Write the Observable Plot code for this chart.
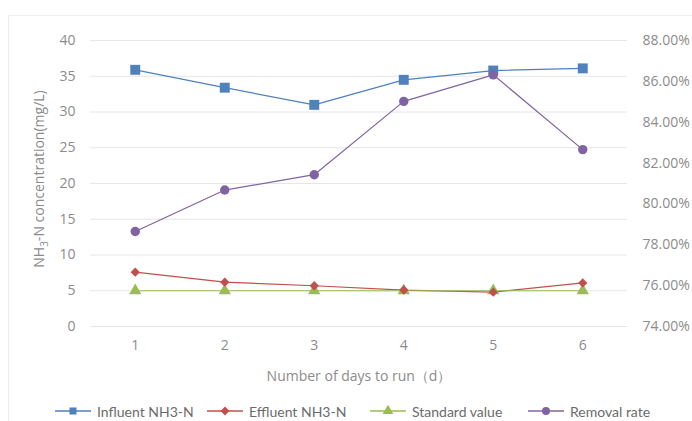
<!DOCTYPE html>
<html>
<head>
<meta charset="utf-8">
<script src="https://cdn.jsdelivr.net/npm/d3@7"></script>
<script src="https://cdn.jsdelivr.net/npm/@observablehq/plot@0.6"></script>
<style>
  html, body { margin: 0; padding: 0; background: #fff; }
  #wrap { position: relative; width: 692px; height: 421px; overflow: hidden; }
  #frame { position: absolute; left: 8px; top: 15px; width: 700px; height: 420px; border-left: 1px solid #ececec; border-top: 1px solid #ececec; pointer-events: none; }
  #chart { position: absolute; left: 0; top: 0; }
  #legend { position: absolute; left: 0; top: 402px; width: 692px; height: 18px; font-family: Lato, "Open Sans", sans-serif; font-size: 14px; color: #6b6b6b; }
  .item { position: absolute; top: 0; display: flex; align-items: center; white-space: nowrap; }
  .item svg { margin-right: 6px; }
</style>
</head>
<body>
<div id="wrap">
  <div id="frame"></div>
  <div id="chart"></div>
  <div id="legend"></div>
</div>
<script>
// ---- data ----
const days = [1, 2, 3, 4, 5, 6];
const influent = [35.9, 33.4, 31.0, 34.5, 35.8, 36.1];
const effluent = [7.6, 6.2, 5.7, 5.1, 4.8, 6.1];
const standard = [5, 5, 5, 5, 5, 5];
const removal = [78.65, 80.68, 81.43, 85.02, 86.32, 82.66]; // percent, right axis
const leftTicks = [0, 5, 10, 15, 20, 25, 30, 35, 40];
const rightTicks = [74, 76, 78, 80, 82, 84, 86, 88];
const seriesNames = ["Influent NH3-N", "Effluent NH3-N", "Standard value", "Removal rate"];
const colors = ["#4F81BD", "#C0504D", "#9BBB59", "#8064A2"];
const symbols = ["square", "diamond2", "triangle", "circle"];
const markerR = [5.6, 4.2, 4.6, 4.7];

// right axis (percent) mapped onto left axis scale
const rMin = 74, rMax = 88, lMax = 40;
const toLeft = r => (r - rMin) / (rMax - rMin) * lMax;
const fromLeft = v => rMin + v / lMax * (rMax - rMin);

const rows = [];
days.forEach((d, i) => {
  rows.push({day: d, s: seriesNames[0], v: influent[i], k: 0});
  rows.push({day: d, s: seriesNames[1], v: effluent[i], k: 1});
  rows.push({day: d, s: seriesNames[2], v: standard[i], k: 2});
  rows.push({day: d, s: seriesNames[3], v: toLeft(removal[i]), k: 3});
});

const font = "'Open Sans', sans-serif";
const plot = Plot.plot({
  width: 692,
  height: 395,
  marginLeft: 90,
  marginRight: 65,
  marginTop: 40,
  marginBottom: 69,
  style: {fontFamily: font, fontSize: "14px", color: "#8c8c8c", background: "transparent"},
  x: {type: "linear", domain: [0.5, 6.5]},
  y: {domain: [0, 40]},
  r: {type: "identity"},
  color: {domain: seriesNames, range: colors},
  symbol: {domain: seriesNames, range: symbols},
  marks: [
    Plot.gridY(leftTicks, {stroke: "#e6e6e6", strokeOpacity: 1}),
    Plot.axisY(leftTicks, {anchor: "left", tickSize: 0, tickPadding: 15, label: null, fill: "#8c8c8c"}),
    Plot.axisY(rightTicks.map(toLeft), {anchor: "right", tickSize: 0, tickPadding: 15, label: null,
      tickFormat: v => fromLeft(v).toFixed(2) + "%", fill: "#8c8c8c"}),
    Plot.axisX(days, {anchor: "bottom", tickSize: 0, tickPadding: 14, tickFormat: d => String(d),
      label: "Number of days to run（d）", labelAnchor: "center", labelArrow: "none", labelOffset: 54, fill: "#8c8c8c"}),
    Plot.line(rows, {x: "day", y: "v", z: "s", stroke: "s", strokeWidth: 1.2}),
    Plot.dot(rows, {x: "day", y: "v", fill: "s", symbol: "s", stroke: "none", r: d => markerR[d.k]})
  ]
});
document.getElementById("chart").appendChild(plot);

// y-axis title with subscript
const svg = d3.select(plot);
const t = svg.append("text")
  .attr("transform", "translate(44,179) rotate(-90)")
  .attr("text-anchor", "middle")
  .attr("font-family", font)
  .attr("font-size", "14px")
  .attr("fill", "#8c8c8c");
t.append("tspan").text("NH");
t.append("tspan").attr("font-size", "10px").attr("dy", "4").text("3");
t.append("tspan").attr("dy", "-4").text("-N concentration(mg/L)");

// legend
const legendX = [55, 207, 370, 528];
const legend = d3.select("#legend");
seriesNames.forEach((name, i) => {
  const item = legend.append("div").attr("class", "item").style("left", legendX[i] + "px");
  const s = item.append("svg").attr("width", 36).attr("height", 18);
  s.append("line").attr("x1", 0).attr("x2", 36).attr("y1", 9).attr("y2", 9)
    .attr("stroke", colors[i]).attr("stroke-width", 1.3);
  const sym = {square: d3.symbolSquare, diamond2: d3.symbolDiamond2, triangle: d3.symbolTriangle, circle: d3.symbolCircle}[symbols[i]];
  s.append("path").attr("transform", "translate(18,9)")
    .attr("d", d3.symbol(sym, 50)()).attr("fill", colors[i]);
  item.append("span").text(name);
});
</script>
</body>
</html>
